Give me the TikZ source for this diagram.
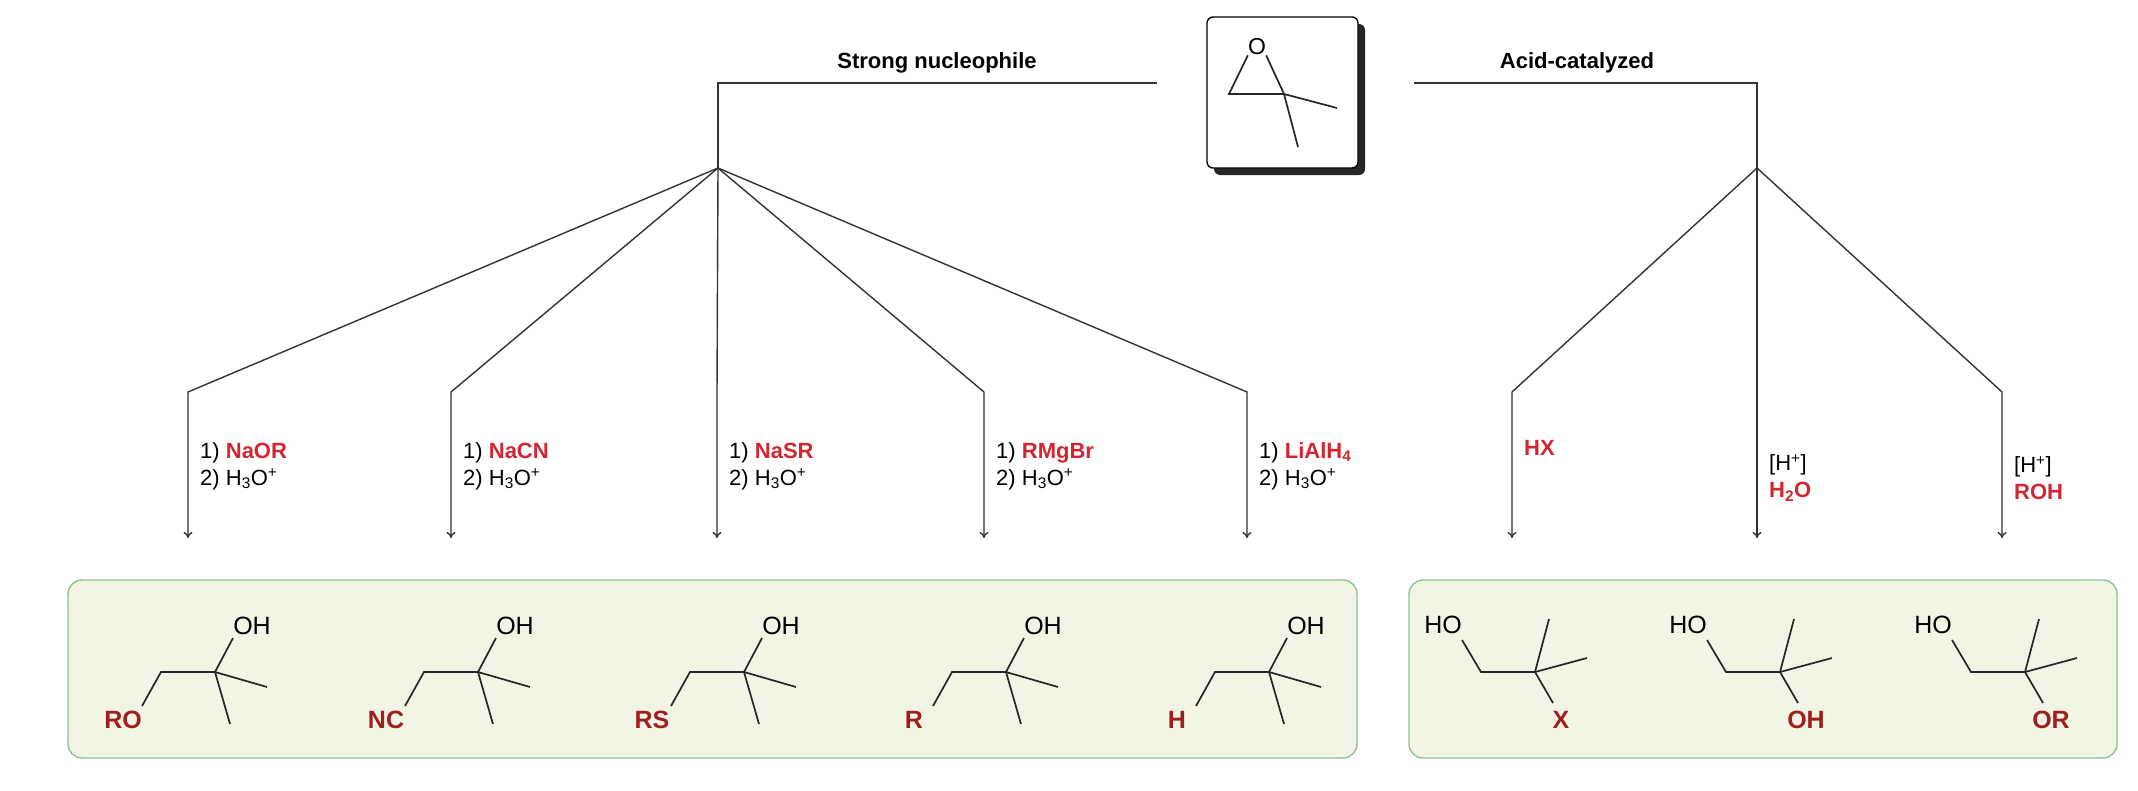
\documentclass[tikz,border=0pt]{standalone}
\usepackage{fontspec}
\setmainfont{Liberation Sans}
\usetikzlibrary{arrows.meta}
\definecolor{reag}{RGB}{212,38,48}
\definecolor{prod}{RGB}{160,30,32}
\definecolor{boxfill}{RGB}{243,245,228}
\definecolor{boxline}{RGB}{140,195,150}

\tikzset{
  bond/.style={line width=1.7pt, color=black!85},
  branch/.style={line width=1.4pt, color=black!80},
  reagent/.style={anchor=west, align=left, font=\fontsize{22}{27}\selectfont, inner sep=0pt},
  atom/.style={font=\fontsize{25}{27}\selectfont, inner sep=0pt},
  patom/.style={atom, text=prod, font=\fontsize{25}{27}\selectfont\bfseries},
  panel/.style={draw=boxline, fill=boxfill, line width=1.4pt, rounded corners=14pt}
}
\newcommand{\rd}[1]{\textcolor{reag}{\bfseries #1}}

% product of the nucleophile route, carbon at (#1,#2)
\newcommand{\nucprod}[3]{%
  \draw[bond] (#1+18,#2-34) -- (#1,#2) -- (#1-54,#2) -- (#1-73,#2+34);
  \draw[bond] (#1+52,#2+15) -- (#1,#2) -- (#1+15,#2+52);
  \node[atom] at (#1+37,#2-46) {OH};
  \node[patom] at (#1-92,#2+48) {#3};
}
% product of the acid route
\newcommand{\acidprod}[3]{%
  \draw[bond] (#1-73,#2-32) -- (#1-54,#2) -- (#1,#2) -- (#1+14,#2-53);
  \draw[bond] (#1+52,#2-14) -- (#1,#2) -- (#1+18,#2+31);
  \node[atom] at (#1-92,#2-47) {HO};
  \node[patom] at (#1+26,#2+48) {#3};
}

\begin{document}
\begin{tikzpicture}[x=1pt,y=-1pt]
  \useasboundingbox (0,0) rectangle (2138,790);

  % epoxide
  \fill[black!85, rounded corners=6pt] (1214,24) rectangle (1365,175);
  \draw[line width=1.4pt, fill=white, rounded corners=6pt] (1207,17) rectangle (1358,168);
  \node[font=\fontsize{23}{25}\selectfont, inner sep=0pt] (ox) at (1257,47) {O};
  \draw[bond] (ox.south west) -- (1229,94) -- (1284,94) -- (ox.south east);
  \draw[bond] (1337,108) -- (1284,94) -- (1298,147);

  % routes
  \coordinate (nuc) at (718,168);
  \coordinate (acid) at (1757,168);
  \draw[branch] (nuc) -- (718,83) -- (1157,83);
  \draw[branch] (acid) -- (1757,83) -- (1414,83);
  \node[font=\fontsize{22}{24}\selectfont\bfseries] at (937,63) {Strong nucleophile};
  \node[font=\fontsize{22}{24}\selectfont\bfseries] at (1577,63) {Acid-catalyzed};

  \foreach \x/\lbl in {188/NaOR, 451/NaCN, 717/NaSR, 984/RMgBr, 1247/{LiAlH\textsubscript{4}}}{
    \draw[branch, -{To[length=6pt,width=9pt]}] (nuc) -- (\x,392) -- (\x,538);
    \node[reagent] at (\x+12,466) {1) \rd{\lbl}\\2) H\textsubscript{3}O\textsuperscript{+}};
  }
  \foreach \x in {1512,1757,2002}{
    \draw[branch, -{To[length=6pt,width=9pt]}] (acid) -- (\x,392) -- (\x,538);
  }
  \node[reagent] at (1524,448) {\rd{HX}};
  \node[reagent] at (1769,478) {[H\textsuperscript{+}]\\\rd{H\textsubscript{2}O}};
  \node[reagent] at (2014,478) {[H\textsuperscript{+}]\\\rd{ROH}};

  % products
  \draw[panel] (68,580) rectangle (1357,758);
  \draw[panel] (1409,580) rectangle (2117,758);
  \nucprod{215}{672}{RO}
  \nucprod{478}{672}{NC}
  \nucprod{744}{672}{RS}
  \nucprod{1006}{672}{R}
  \nucprod{1269}{672}{H}
  \acidprod{1535}{672}{X}
  \acidprod{1780}{672}{OH}
  \acidprod{2025}{672}{OR}
\end{tikzpicture}
\end{document}
